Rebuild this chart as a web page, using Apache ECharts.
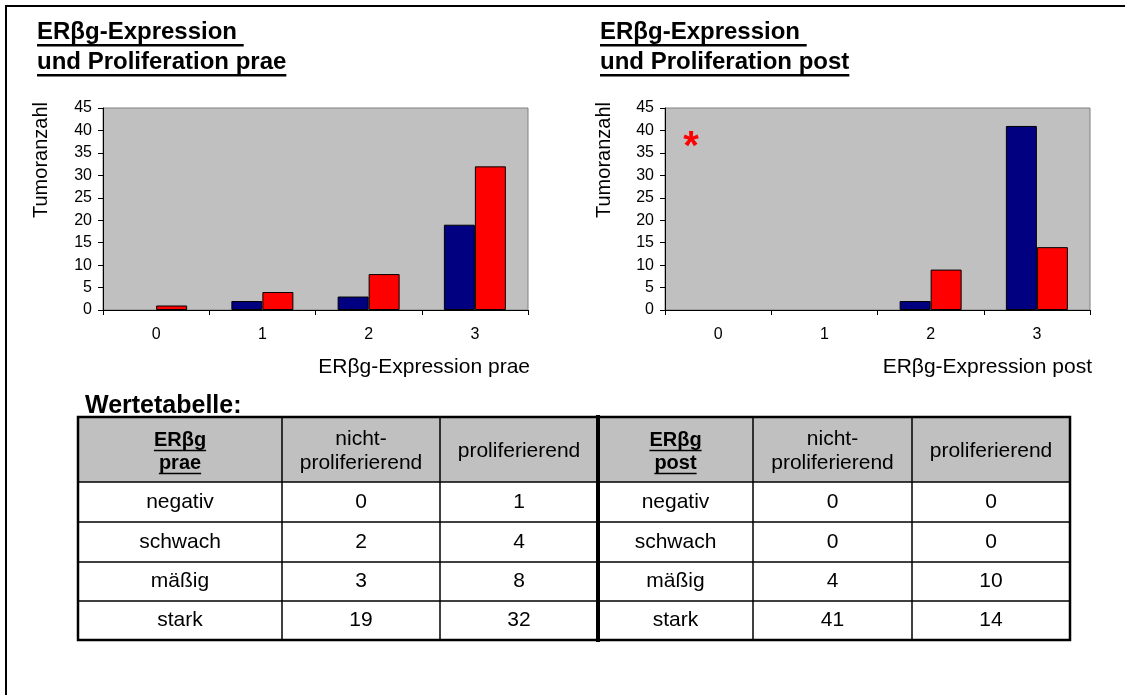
<!DOCTYPE html>
<html><head><meta charset="utf-8">
<script src="https://cdn.jsdelivr.net/npm/echarts@6/dist/echarts.min.js"></script>
<style>html,body{margin:0;padding:0;background:#fff}#c{width:1125px;height:695px}</style>
</head><body><div id="c"></div>
<script>
// ---------- data ----------
const categories = ['0', '1', '2', '3'];
const praeNonProlif = [0, 2, 3, 19];
const praeProlif = [1, 4, 8, 32];
const postNonProlif = [0, 0, 2, 41];
const postProlif = [0, 0, 9, 14];
const yMin = 0, yMax = 45, yStep = 5;

const titlePrae = ['ERβg-Expression ', 'und Proliferation prae'];
const titlePost = ['ERβg-Expression ', 'und Proliferation post'];
const xNamePrae = 'ERβg-Expression prae';
const xNamePost = 'ERβg-Expression post';
const yName = 'Tumoranzahl';
const starMark = '*';

const tableCaption = 'Wertetabelle:';
const tableRowLabels = ['negativ', 'schwach', 'mäßig', 'stark'];
const headerPrae = ['ERβg', 'prae'];
const headerPost = ['ERβg', 'post'];
const headerNonProlif = ['nicht-', 'proliferierend'];
const headerProlif = 'proliferierend';
const praeTableNonProlif = [0, 2, 3, 19];
const praeTableProlif = [1, 4, 8, 32];
const postTableNonProlif = [0, 0, 4, 41];
const postTableProlif = [0, 0, 10, 14];

// ---------- helpers ----------
const FF = '"Liberation Sans", Arial, Helvetica, sans-serif';
const mctx = document.createElement('canvas').getContext('2d');
function tw(text, size, bold) { mctx.font = (bold ? 'bold ' : '') + size + 'px ' + FF; return mctx.measureText(text).width; }
function txt(x, y, text, o) {
  o = o || {};
  const al = o.align || 'center';
  return { type: 'text', x: x, y: y, rotation: o.rot || 0, z: 20,
    style: { text: text, fill: o.color || '#000', fontSize: o.size || 16, fontFamily: FF,
      fontWeight: o.bold ? 'bold' : 'normal', align: al, textAlign: al,
      verticalAlign: 'middle', textVerticalAlign: 'middle' } };
}
function rect(x, y, w, h, fill) { return { type: 'rect', z: 15, shape: { x: x, y: y, width: w, height: h }, style: { fill: fill } }; }
function line(x1, y1, x2, y2, w) { return { type: 'line', z: 16, shape: { x1: x1, y1: y1, x2: x2, y2: y2 }, style: { stroke: '#000', lineWidth: w } }; }

const g = [];
// outer frame
g.push({ type: 'rect', z: 5, shape: { x: 6, y: 6, width: 1300, height: 900 }, style: { fill: 'none', stroke: '#000', lineWidth: 2 } });

// titles with underline
function title(x, lines) {
  const fs = 24, base = [41, 71];
  lines.forEach(function (t, i) {
    g.push(txt(x, base[i] - 0.36 * fs, t, { size: fs, bold: true, align: 'left' }));
    g.push(rect(x, base[i] + 3, tw(t, fs, true), 2.5, '#000'));
  });
}
title(37, titlePrae);
title(600, titlePost);

// axis names
g.push(txt(41, 160, yName, { size: 20, rot: Math.PI / 2 }));
g.push(txt(604, 160, yName, { size: 20, rot: Math.PI / 2 }));
g.push(txt(530, 367, xNamePrae, { size: 21, align: 'right' }));
g.push(txt(1092, 367, xNamePost, { size: 21, align: 'right' }));
// star annotation
g.push(txt(691, 148, starMark, { size: 40, bold: true, color: '#ff0000' }));

// table
g.push(txt(85, 406, tableCaption, { size: 25, bold: true, align: 'left' }));
const colX = [78, 282, 440, 598, 753, 912, 1070];
const rowY = [417, 482, 522, 562, 601, 640];
g.push(rect(colX[0], rowY[0], colX[6] - colX[0], rowY[1] - rowY[0], '#c0c0c0'));
g.push(rect(colX[0], rowY[1], colX[6] - colX[0], rowY[5] - rowY[1], '#ffffff'));
for (let i = 1; i < rowY.length - 1; i++) g.push(line(colX[0], rowY[i], colX[6], rowY[i], 1.5));
[1, 2, 4, 5].forEach(function (i) { g.push(line(colX[i], rowY[0], colX[i], rowY[5], 1.5)); });
g.push({ type: 'rect', z: 17, shape: { x: colX[0], y: rowY[0], width: colX[6] - colX[0], height: rowY[5] - rowY[0] }, style: { fill: 'none', stroke: '#000', lineWidth: 2.5 } });
g.push(line(colX[3], 415, colX[3], 642, 4));

const cx = []; for (let i = 0; i < 6; i++) cx.push((colX[i] + colX[i + 1]) / 2);
const rc = []; for (let i = 0; i < 5; i++) rc.push((rowY[i] + rowY[i + 1]) / 2);
const TF = 21, HB = 20;
function boldUnder(x, yc, t) {
  g.push(txt(x, yc, t, { size: HB, bold: true }));
  const w = tw(t, HB, true);
  g.push(rect(x - w / 2, yc + 0.36 * HB + 2, w, 1.5, '#000'));
}
[[0, headerPrae], [3, headerPost]].forEach(function (p) {
  boldUnder(cx[p[0]], 440.5, p[1][0]);
  boldUnder(cx[p[0]], 463.5, p[1][1]);
});
[1, 4].forEach(function (c) {
  g.push(txt(cx[c], 439, headerNonProlif[0], { size: TF }));
  g.push(txt(cx[c], 463, headerNonProlif[1], { size: TF }));
});
[2, 5].forEach(function (c) { g.push(txt(cx[c], 451, headerProlif, { size: TF })); });
tableRowLabels.forEach(function (lab, r) {
  const y = rc[r + 1];
  g.push(txt(cx[0], y, lab, { size: TF }));
  g.push(txt(cx[1], y, String(praeTableNonProlif[r]), { size: TF }));
  g.push(txt(cx[2], y, String(praeTableProlif[r]), { size: TF }));
  g.push(txt(cx[3], y, lab, { size: TF }));
  g.push(txt(cx[4], y, String(postTableNonProlif[r]), { size: TF }));
  g.push(txt(cx[5], y, String(postTableProlif[r]), { size: TF }));
});

// ---------- chart ----------
const grids = [{ left: 103, top: 108, width: 425, height: 202 }, { left: 665, top: 108, width: 425, height: 202 }];
function barSeries(data, color, idx) {
  return { type: 'bar', xAxisIndex: idx, yAxisIndex: idx, barWidth: 31, barGap: '0%',
    data: data.map(function (v) { return v === 0 ? { value: v, itemStyle: { borderWidth: 0 } } : v; }),
    itemStyle: { color: color, borderColor: '#000', borderWidth: 1 }, silent: true };
}
const option = {
  animation: false,
  backgroundColor: '#ffffff',
  grid: grids.map(function (gr) { return Object.assign({ show: true, backgroundColor: '#c0c0c0', borderColor: '#808080', borderWidth: 1 }, gr); }),
  xAxis: [0, 1].map(function (i) {
    return { type: 'category', gridIndex: i, data: categories,
      axisLine: { lineStyle: { color: '#000', width: 1 } },
      axisTick: { show: true, length: 5, lineStyle: { color: '#000' } },
      axisLabel: { color: '#000', fontSize: 16, fontFamily: FF, margin: 17 },
      splitLine: { show: false } };
  }),
  yAxis: [0, 1].map(function (i) {
    return { type: 'value', gridIndex: i, min: yMin, max: yMax, interval: yStep,
      axisLine: { show: true, lineStyle: { color: '#000', width: 1 } },
      axisTick: { show: true, length: 5, lineStyle: { color: '#000' } },
      axisLabel: { color: '#000', fontSize: 16, fontFamily: FF, margin: 11 },
      splitLine: { show: false } };
  }),
  series: [
    barSeries(praeNonProlif, '#000080', 0), barSeries(praeProlif, '#ff0000', 0),
    barSeries(postNonProlif, '#000080', 1), barSeries(postProlif, '#ff0000', 1)
  ],
  graphic: { elements: g }
};
const chart = echarts.init(document.getElementById('c'), null, { renderer: 'canvas' });
chart.setOption(option);
</script>
</body></html>
